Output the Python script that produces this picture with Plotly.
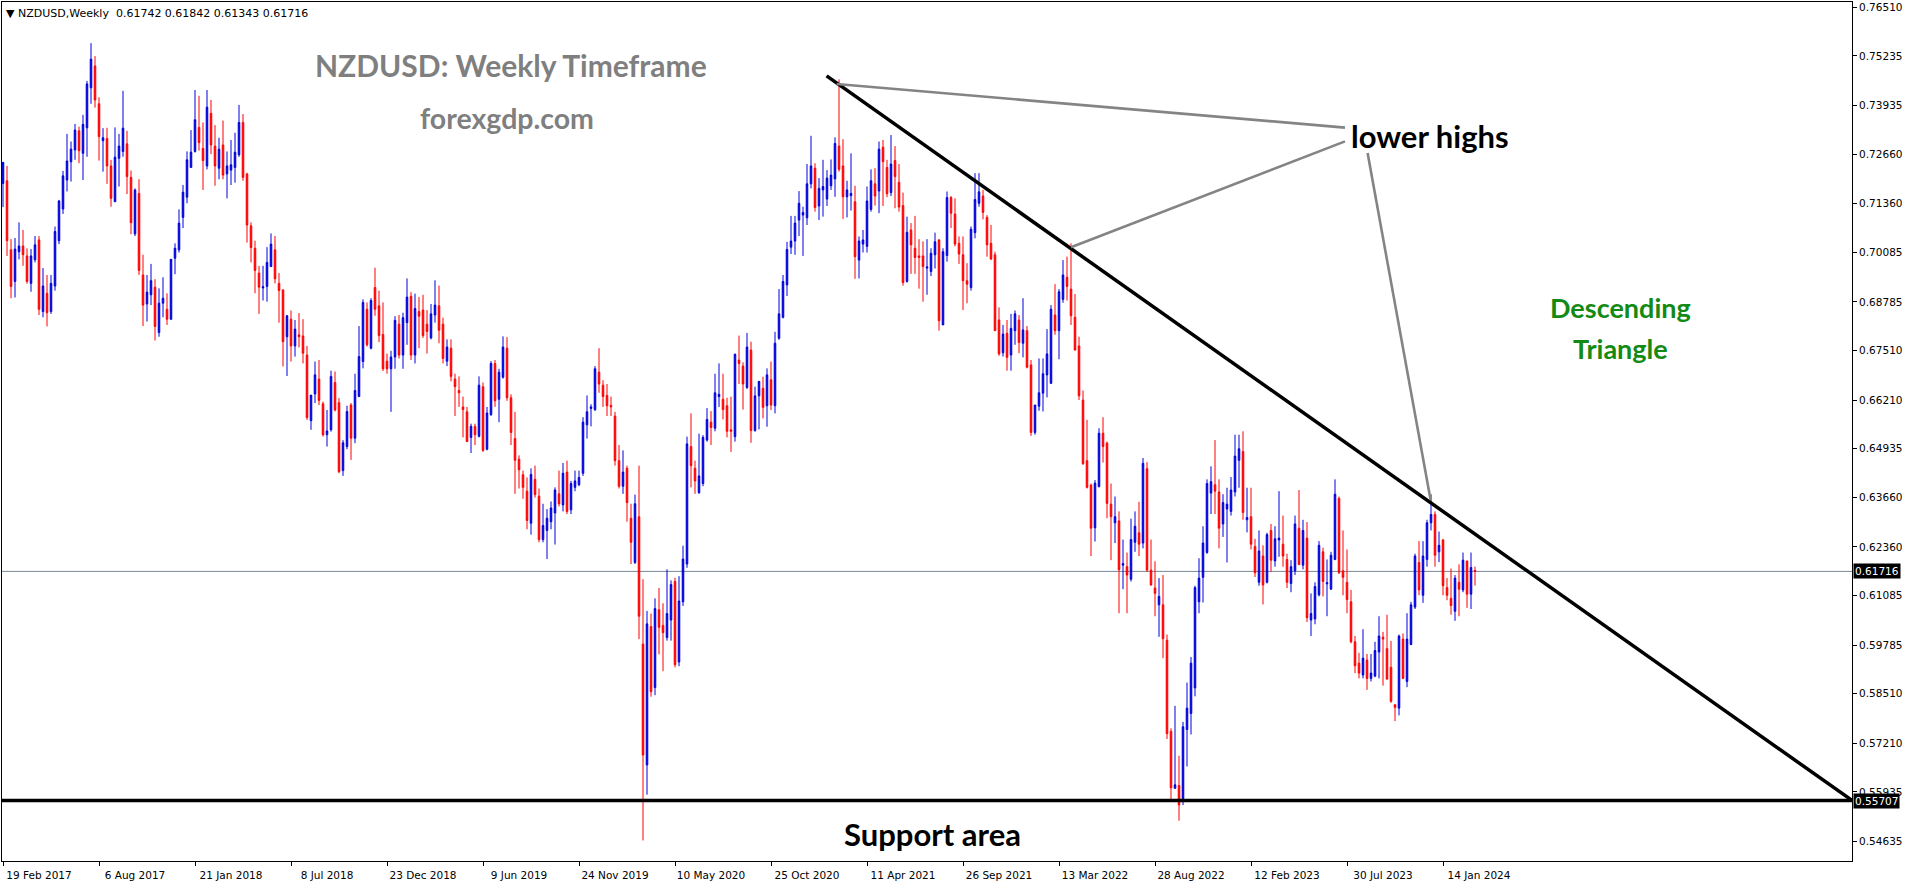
import pandas as pd
import plotly.graph_objects as go

# ---------------- data (NZDUSD weekly) ----------------
week_start = "2017-02-19"

opens = [
0.7189,0.7196,0.7015,0.6932,0.7010,0.7025,0.6999,0.6927,0.6989,0.7041,
0.6853,0.6901,0.6853,0.6920,0.7039,0.7122,0.7198,0.7246,0.7277,0.7327,
0.7268,0.7335,0.7440,0.7497,0.7398,0.7301,0.7307,0.7235,0.7141,0.7255,
0.7273,0.7293,0.7205,0.7057,0.7163,0.6949,0.6873,0.6897,0.6917,0.6798,
0.6875,0.6859,0.6833,0.6993,0.7015,0.7100,0.7153,0.7231,0.7273,0.7336,
0.7281,0.7235,0.7373,0.7287,0.7229,0.7290,0.7214,0.7224,0.7231,0.7264,
0.7349,0.7214,0.7078,0.7019,0.6954,0.6915,0.6919,0.6971,0.7015,0.6927,
0.6910,0.6787,0.6833,0.6763,0.6792,0.6789,0.6739,0.6567,0.6637,0.6676,
0.6611,0.6530,0.6543,0.6667,0.6614,0.6436,0.6499,0.6608,0.6521,0.6630,
0.6722,0.6859,0.6757,0.6916,0.6868,0.6793,0.6723,0.6703,0.6734,0.6820,
0.6739,0.6824,0.6893,0.6739,0.6853,0.6857,0.6820,0.6784,0.6844,0.6868,
0.6820,0.6723,0.6757,0.6676,0.6646,0.6603,0.6590,0.6523,0.6552,0.6526,
0.6656,0.6492,0.6583,0.6717,0.6623,0.6681,0.6757,0.6627,0.6520,0.6466,
0.6425,0.6382,0.6298,0.6413,0.6369,0.6255,0.6279,0.6302,0.6325,0.6375,
0.6346,0.6432,0.6333,0.6392,0.6399,0.6429,0.6556,0.6599,0.6596,0.6694,
0.6660,0.6633,0.6607,0.6579,0.6462,0.6395,0.6442,0.6311,0.6195,0.6315,
0.5981,0.5664,0.6027,0.5867,0.6071,0.6030,0.5998,0.6044,0.6145,0.5934,
0.6092,0.6191,0.6499,0.6442,0.6378,0.6402,0.6516,0.6563,0.6547,0.6630,
0.6623,0.6606,0.6543,0.6525,0.6726,0.6710,0.6654,0.6752,0.6541,0.6632,
0.6652,0.6606,0.6674,0.6606,0.6783,0.6838,0.6923,0.7022,0.7038,0.7093,
0.7106,0.7099,0.7188,0.7229,0.7130,0.7172,0.7148,0.7183,0.7201,0.7287,
0.7235,0.7154,0.7157,0.7141,0.6988,0.7030,0.7024,0.7121,0.7188,0.7169,
0.7284,0.7231,0.7165,0.7249,0.7192,0.7131,0.6932,0.7067,0.7019,0.6999,
0.6999,0.6967,0.6958,0.7002,0.7041,0.6818,0.7000,0.7152,0.7109,0.7032,
0.7002,0.6934,0.6916,0.7060,0.7137,0.7156,0.7100,0.7032,0.7002,0.6831,
0.6745,0.6796,0.6739,0.6803,0.6831,0.6770,0.6803,0.6713,0.6536,0.6605,
0.6639,0.6687,0.6665,0.6844,0.6803,0.6885,0.6943,0.6912,0.6838,0.6763,
0.6621,0.6462,0.6398,0.6286,0.6394,0.6534,0.6508,0.6348,0.6299,0.6304,
0.6188,0.6184,0.6151,0.6248,0.6273,0.6246,0.6441,0.6175,0.6128,0.6084,
0.6084,0.5991,0.5752,0.5603,0.5610,0.5574,0.5757,0.5799,0.5866,0.6092,
0.6156,0.6221,0.6377,0.6399,0.6380,0.6296,0.6335,0.6329,0.6380,0.6463,
0.6486,0.6307,0.6315,0.6237,0.6143,0.6212,0.6143,0.6279,0.6199,0.6254,
0.6243,0.6203,0.6140,0.6173,0.6285,0.6188,0.6259,0.6044,0.6047,0.6110,
0.6223,0.6139,0.6125,0.6203,0.6363,0.6173,0.6143,0.6092,0.5987,0.5931,
0.5900,0.5939,0.5891,0.5897,0.5960,0.5999,0.5969,0.5920,0.5822,0.5813,
0.5994,0.5883,0.5980,0.6078,0.6195,0.6109,0.6203,0.6299,0.6321,0.6223,
0.6254,0.6129,0.6101,0.6067,0.6143,0.6123,0.6199,0.6112,0.61742]

highs = [
0.7246,0.7235,0.7043,0.7046,0.7087,0.7067,0.7019,0.7017,0.7051,0.7051,
0.6967,0.6949,0.6949,0.7076,0.7146,0.7222,0.7319,0.7299,0.7345,0.7338,
0.7369,0.7458,0.7557,0.7523,0.7415,0.7334,0.7335,0.7251,0.7336,0.7319,
0.7432,0.7327,0.7223,0.7176,0.7200,0.7002,0.6949,0.6978,0.6938,0.6914,
0.6943,0.6901,0.6990,0.7032,0.7121,0.7185,0.7273,0.7329,0.7434,0.7419,
0.7349,0.7434,0.7408,0.7342,0.7309,0.7354,0.7273,0.7303,0.7322,0.7395,
0.7371,0.7217,0.7087,0.7039,0.6973,0.6973,0.7022,0.7058,0.7051,0.6954,
0.6910,0.6844,0.6856,0.6831,0.6849,0.6833,0.6763,0.6634,0.6722,0.6726,
0.6617,0.6595,0.6698,0.6696,0.6626,0.6516,0.6606,0.6613,0.6690,0.6815,
0.6885,0.6877,0.6888,0.6968,0.6908,0.6877,0.6743,0.6750,0.6841,0.6844,
0.6850,0.6940,0.6904,0.6900,0.6891,0.6897,0.6857,0.6873,0.6935,0.6921,
0.6837,0.6780,0.6780,0.6690,0.6683,0.6630,0.6603,0.6559,0.6559,0.6683,
0.6667,0.6603,0.6723,0.6726,0.6703,0.6788,0.6786,0.6636,0.6590,0.6476,
0.6436,0.6418,0.6442,0.6449,0.6389,0.6349,0.6335,0.6355,0.6392,0.6436,
0.6456,0.6462,0.6409,0.6436,0.6436,0.6576,0.6633,0.6610,0.6710,0.6757,
0.6673,0.6663,0.6630,0.6590,0.6503,0.6489,0.6449,0.6349,0.6373,0.6449,
0.6151,0.6068,0.6061,0.6101,0.6128,0.6088,0.6177,0.6148,0.6155,0.6159,
0.6239,0.6525,0.6586,0.6462,0.6533,0.6529,0.6600,0.6592,0.6690,0.6717,
0.6690,0.6627,0.6630,0.6743,0.6790,0.6720,0.6797,0.6774,0.6656,0.6670,
0.6682,0.6704,0.6722,0.6800,0.6912,0.6949,0.7036,0.7104,0.7104,0.7169,
0.7128,0.7240,0.7314,0.7242,0.7203,0.7251,0.7224,0.7252,0.7310,0.7462,
0.7305,0.7196,0.7268,0.7183,0.7050,0.7067,0.7181,0.7226,0.7229,0.7299,
0.7303,0.7251,0.7316,0.7287,0.7240,0.7165,0.7102,0.7085,0.7104,0.7043,
0.7037,0.7043,0.7019,0.7060,0.7043,0.7019,0.7168,0.7156,0.7150,0.7050,
0.7050,0.6980,0.7076,0.7216,0.7216,0.7172,0.7106,0.7080,0.7010,0.6864,
0.6818,0.6831,0.6847,0.6856,0.6844,0.6888,0.6815,0.6726,0.6608,0.6730,
0.6730,0.6807,0.6870,0.6925,0.6912,0.6988,0.6997,0.7032,0.6899,0.6787,
0.6646,0.6569,0.6402,0.6411,0.6547,0.6576,0.6512,0.6402,0.6368,0.6329,
0.6255,0.6221,0.6310,0.6329,0.6354,0.6469,0.6458,0.6255,0.6198,0.6154,
0.6162,0.6006,0.5760,0.5819,0.5688,0.5777,0.5880,0.5947,0.6134,0.6206,
0.6290,0.6413,0.6447,0.6516,0.6413,0.6374,0.6391,0.6419,0.6530,0.6530,
0.6539,0.6391,0.6391,0.6257,0.6279,0.6240,0.6273,0.6296,0.6290,0.6382,
0.6318,0.6218,0.6201,0.6318,0.6385,0.6307,0.6301,0.6114,0.6143,0.6251,
0.6234,0.6203,0.6223,0.6413,0.6368,0.6279,0.6229,0.6123,0.6002,0.5958,
0.6020,0.5955,0.5955,0.5987,0.6054,0.6013,0.6058,0.5989,0.5822,0.6006,
0.6009,0.6062,0.6092,0.6218,0.6251,0.6251,0.6307,0.6374,0.6329,0.6276,
0.6257,0.6154,0.6179,0.6162,0.6190,0.6221,0.6199,0.6221,0.61842]

lows = [
0.7127,0.6999,0.6888,0.6890,0.6990,0.6973,0.6926,0.6905,0.6982,0.6844,
0.6838,0.6814,0.6847,0.6908,0.7030,0.7109,0.7168,0.7194,0.7251,0.7242,
0.7198,0.7259,0.7398,0.7388,0.7249,0.7220,0.7188,0.7128,0.7141,0.7181,
0.7259,0.7161,0.7056,0.7051,0.6949,0.6815,0.6827,0.6870,0.6777,0.6787,
0.6838,0.6818,0.6831,0.6951,0.7008,0.7072,0.7137,0.7231,0.7270,0.7275,
0.7172,0.7226,0.7266,0.7183,0.7200,0.7200,0.7150,0.7185,0.7191,0.7259,
0.7196,0.7034,0.6982,0.6901,0.6847,0.6882,0.6879,0.6971,0.6927,0.6824,
0.6709,0.6684,0.6722,0.6735,0.6759,0.6717,0.6569,0.6543,0.6613,0.6608,
0.6525,0.6499,0.6538,0.6591,0.6429,0.6422,0.6492,0.6464,0.6508,0.6630,
0.6704,0.6761,0.6754,0.6842,0.6773,0.6697,0.6690,0.6590,0.6703,0.6730,
0.6703,0.6766,0.6726,0.6717,0.6757,0.6784,0.6743,0.6780,0.6824,0.6770,
0.6717,0.6710,0.6670,0.6579,0.6603,0.6523,0.6512,0.6482,0.6503,0.6523,
0.6485,0.6489,0.6579,0.6603,0.6563,0.6677,0.6619,0.6503,0.6375,0.6389,
0.6362,0.6282,0.6268,0.6365,0.6248,0.6248,0.6204,0.6282,0.6242,0.6342,
0.6329,0.6322,0.6322,0.6382,0.6395,0.6422,0.6520,0.6552,0.6592,0.6640,
0.6603,0.6579,0.6579,0.6449,0.6389,0.6375,0.6302,0.6191,0.6191,0.5994,
0.5466,0.5586,0.5843,0.5847,0.5954,0.5910,0.5990,0.5990,0.5920,0.5923,
0.6081,0.6181,0.6392,0.6375,0.6375,0.6395,0.6512,0.6503,0.6539,0.6603,
0.6570,0.6523,0.6485,0.6512,0.6663,0.6596,0.6650,0.6509,0.6538,0.6544,
0.6573,0.6551,0.6595,0.6586,0.6779,0.6835,0.6894,0.7004,0.7002,0.7051,
0.6999,0.7080,0.7176,0.7115,0.7093,0.7102,0.7130,0.7172,0.7154,0.7220,
0.7096,0.7100,0.7118,0.6939,0.6940,0.7008,0.7008,0.7115,0.7131,0.7111,
0.7130,0.7153,0.7156,0.7124,0.7115,0.6921,0.6929,0.6952,0.6952,0.6913,
0.6879,0.6897,0.6946,0.6966,0.6803,0.6818,0.6984,0.7072,0.7024,0.6978,
0.6857,0.6875,0.6908,0.7045,0.7128,0.7095,0.6997,0.6988,0.6803,0.6737,
0.6735,0.6698,0.6698,0.6766,0.6744,0.6733,0.6704,0.6527,0.6530,0.6593,
0.6591,0.6628,0.6663,0.6792,0.6728,0.6876,0.6882,0.6818,0.6751,0.6621,
0.6451,0.6389,0.6212,0.6250,0.6392,0.6457,0.6311,0.6201,0.6246,0.6062,
0.6125,0.6062,0.6145,0.6223,0.6212,0.6232,0.6170,0.6134,0.6054,0.6000,
0.5944,0.5732,0.5570,0.5601,0.5518,0.5559,0.5660,0.5744,0.5844,0.6062,
0.6090,0.6218,0.6322,0.6322,0.6232,0.6262,0.6195,0.6318,0.6368,0.6391,
0.6307,0.6274,0.6229,0.6157,0.6134,0.6085,0.6140,0.6171,0.6184,0.6210,
0.6184,0.6128,0.6117,0.6162,0.6188,0.6177,0.6039,0.6002,0.6033,0.6106,
0.6106,0.6054,0.6123,0.6201,0.6165,0.6109,0.6062,0.5983,0.5905,0.5891,
0.5891,0.5861,0.5883,0.5894,0.5891,0.5872,0.5889,0.5827,0.5779,0.5794,
0.5889,0.5868,0.5978,0.6073,0.6109,0.6089,0.6184,0.6279,0.6184,0.6196,
0.6109,0.6096,0.6058,0.6042,0.6054,0.6117,0.6076,0.6073,0.61343]

closes = [
0.7244,0.7039,0.6919,0.7017,0.7025,0.7002,0.6932,0.6999,0.7028,0.6859,
0.6920,0.6850,0.6927,0.7063,0.7143,0.7209,0.7248,0.7279,0.7329,0.7275,
0.7344,0.7450,0.7515,0.7408,0.7312,0.7309,0.7235,0.7150,0.7258,0.7287,
0.7334,0.7207,0.7086,0.7172,0.6961,0.6870,0.6904,0.6934,0.6814,0.6875,
0.6888,0.6833,0.6990,0.7019,0.7085,0.7166,0.7251,0.7271,0.7356,0.7296,
0.7249,0.7389,0.7290,0.7235,0.7279,0.7211,0.7235,0.7238,0.7271,0.7349,
0.7205,0.7080,0.7021,0.6961,0.6917,0.6918,0.6982,0.7030,0.6939,0.6908,
0.6774,0.6842,0.6763,0.6807,0.6787,0.6744,0.6575,0.6634,0.6687,0.6620,
0.6530,0.6540,0.6683,0.6595,0.6433,0.6509,0.6591,0.6521,0.6646,0.6735,
0.6877,0.6766,0.6882,0.6859,0.6790,0.6703,0.6703,0.6734,0.6830,0.6739,
0.6837,0.6891,0.6739,0.6861,0.6841,0.6790,0.6801,0.6847,0.6870,0.6804,
0.6730,0.6760,0.6683,0.6656,0.6640,0.6596,0.6512,0.6552,0.6530,0.6660,
0.6489,0.6587,0.6717,0.6619,0.6694,0.6760,0.6627,0.6536,0.6463,0.6438,
0.6392,0.6305,0.6426,0.6373,0.6255,0.6292,0.6311,0.6338,0.6385,0.6349,
0.6429,0.6329,0.6402,0.6409,0.6418,0.6563,0.6590,0.6603,0.6703,0.6663,
0.6630,0.6606,0.6603,0.6462,0.6395,0.6432,0.6352,0.6248,0.6349,0.6054,
0.5690,0.6034,0.5856,0.6074,0.6025,0.6011,0.6061,0.6137,0.5927,0.6094,
0.6204,0.6506,0.6449,0.6409,0.6422,0.6523,0.6570,0.6549,0.6640,0.6636,
0.6596,0.6539,0.6539,0.6741,0.6717,0.6663,0.6760,0.6541,0.6632,0.6670,
0.6602,0.6687,0.6608,0.6770,0.6847,0.6932,0.7016,0.7038,0.7085,0.7137,
0.7113,0.7188,0.7235,0.7126,0.7176,0.7181,0.7203,0.7211,0.7294,0.7226,
0.7154,0.7172,0.7163,0.6997,0.7038,0.7041,0.7143,0.7196,0.7156,0.7279,
0.7246,0.7162,0.7240,0.7207,0.7127,0.6929,0.7061,0.7028,0.6995,0.6995,
0.6971,0.6970,0.7006,0.7036,0.6829,0.7010,0.7152,0.7111,0.7030,0.7004,
0.6934,0.6925,0.7069,0.7147,0.7167,0.7113,0.7028,0.6991,0.6803,0.6742,
0.6794,0.6733,0.6809,0.6847,0.6772,0.6805,0.6707,0.6536,0.6608,0.6640,
0.6690,0.6742,0.6859,0.6803,0.6905,0.6949,0.6919,0.6842,0.6752,0.6632,
0.6454,0.6392,0.6285,0.6403,0.6534,0.6499,0.6350,0.6315,0.6315,0.6176,
0.6192,0.6162,0.6255,0.6290,0.6243,0.6455,0.6175,0.6136,0.6114,0.6106,
0.5995,0.5746,0.5604,0.5612,0.5559,0.5764,0.5813,0.5931,0.6129,0.6154,
0.6246,0.6402,0.6407,0.6382,0.6285,0.6352,0.6348,0.6385,0.6474,0.6493,
0.6326,0.6313,0.6243,0.6168,0.6225,0.6136,0.6268,0.6201,0.6257,0.6259,
0.6212,0.6143,0.6184,0.6296,0.6190,0.6279,0.6050,0.6061,0.6132,0.6240,
0.6145,0.6142,0.6214,0.6374,0.6168,0.6156,0.6098,0.5987,0.5924,0.5905,
0.5944,0.5891,0.5905,0.5964,0.6002,0.5994,0.5889,0.5831,0.5815,0.6002,
0.5891,0.5994,0.6084,0.6212,0.6123,0.6212,0.6299,0.6321,0.6214,0.6240,
0.6134,0.6109,0.6082,0.6154,0.6125,0.6201,0.6112,0.6182,0.61716]

x_tick_dates = ["2017-02-19", "2017-08-06", "2018-01-21", "2018-07-08",
                "2018-12-23", "2019-06-09", "2019-11-24", "2020-05-10",
                "2020-10-25", "2021-04-11", "2021-09-26", "2022-03-13",
                "2022-08-28", "2023-02-12", "2023-07-30", "2024-01-14"]
x_tick_text = ["19 Feb 2017", "6 Aug 2017", "21 Jan 2018", "8 Jul 2018",
               "23 Dec 2018", "9 Jun 2019", "24 Nov 2019", "10 May 2020",
               "25 Oct 2020", "11 Apr 2021", "26 Sep 2021", "13 Mar 2022",
               "28 Aug 2022", "12 Feb 2023", "30 Jul 2023", "14 Jan 2024"]
y_tick_vals = [0.76510, 0.75235, 0.73935, 0.72660, 0.71360, 0.70085,
               0.68785, 0.67510, 0.66210, 0.64935, 0.63660, 0.62360,
               0.61085, 0.59785, 0.58510, 0.57210, 0.55935, 0.54635]
y_tick_text = ["%.5f" % v for v in y_tick_vals]

current_price = 0.61716
support_level = 0.55707
header_ohlc = "0.61742 0.61842 0.61343 0.61716"

# drawing anchors: (bar index, price)
trend_line = [(205.9, 0.7471), (462.25, 0.5571)]
grey_lines = [[(208.4, 0.74498), (335.5, 0.73355)],
              [(267.0, 0.70216), (335.5, 0.72994)],
              [(341.15, 0.72689), (356.9, 0.63588)]]

# ---------------- figure ----------------
W, H = 1916, 884
ML, MR, MT, MB = 2, 64, 2, 23
start = pd.Timestamp(week_start)
dates = pd.date_range(week_start, periods=len(closes), freq="7D")


def bar_date(b):
    return start + pd.Timedelta(days=7 * b)


x_range = [bar_date(-0.25), bar_date(462.25)]
y_range = [0.54121, 0.76649]

BLUE = "#0000DC"
RED = "#FF0000"
FONT = "DejaVu Sans"

fig = go.Figure()
fig.add_trace(go.Candlestick(
    x=dates, open=opens, high=highs, low=lows, close=closes,
    increasing=dict(line=dict(color=BLUE, width=1), fillcolor=BLUE),
    decreasing=dict(line=dict(color=RED, width=1), fillcolor=RED),
    whiskerwidth=0, showlegend=False, hoverinfo="x+y",
))

shapes = []
shapes.append(dict(type="line", xref="paper", yref="y", x0=0, x1=1,
                   y0=current_price, y1=current_price,
                   line=dict(color="#778899", width=1), layer="below"))
shapes.append(dict(type="line", xref="paper", yref="y", x0=0, x1=1,
                   y0=support_level, y1=support_level,
                   line=dict(color="black", width=3.5)))
(b0, p0), (b1, p1) = trend_line
shapes.append(dict(type="line", xref="x", yref="y",
                   x0=bar_date(b0), y0=p0, x1=bar_date(b1), y1=p1,
                   line=dict(color="black", width=3.5)))
for (ga, pa), (gb, pb) in grey_lines:
    shapes.append(dict(type="line", xref="x", yref="y",
                       x0=bar_date(ga), y0=pa, x1=bar_date(gb), y1=pb,
                       line=dict(color="#848484", width=2.6)))


def px_x(px):
    return (px - ML) / (W - ML - MR)


def px_y(py):
    return (H - MB - py) / (H - MT - MB)


def label(text, cx, cy, size, color, family="Lato"):
    return dict(xref="paper", yref="paper", x=px_x(cx), y=px_y(cy),
                xanchor="center", yanchor="middle", showarrow=False,
                text=text, font=dict(family=family, size=size, color=color))


annotations = [
    dict(xref="paper", yref="paper", x=px_x(4), y=px_y(13),
         xanchor="left", yanchor="middle", showarrow=False,
         text="\u25BC NZDUSD,Weekly\u00a0\u00a0" + header_ohlc,
         font=dict(family=FONT, size=11, color="black")),
    label("<b>NZDUSD: Weekly Timeframe</b>", 511, 65, 30, "#7F7F7F"),
    label("<b>forexgdp.com</b>", 507, 118, 28.5, "#7F7F7F"),
    label("<b>lower highs</b>", 1430, 136, 31, "black"),
    label("<b>Descending</b>", 1620, 308, 27, "#138A13"),
    label("<b>Triangle</b>", 1620, 348, 27, "#138A13"),
    label("<b>Support area</b>", 933, 834, 31, "black"),
]
for val in (current_price, support_level):
    annotations.append(dict(xref="paper", yref="y", x=1, y=val,
                            xanchor="left", yanchor="middle", xshift=1,
                            showarrow=False, text="%.5f" % val,
                            bgcolor="black", borderpad=1,
                            font=dict(family=FONT, size=10.5, color="white")))

fig.update_layout(
    width=W, height=H,
    margin=dict(l=ML, r=MR, t=MT, b=MB, pad=0),
    paper_bgcolor="white", plot_bgcolor="white",
    boxgap=0.45,
    shapes=shapes, annotations=annotations,
    showlegend=False,
    xaxis=dict(type="date", range=x_range, rangeslider=dict(visible=False),
               tickmode="array", tickvals=x_tick_dates, ticktext=x_tick_text,
               ticks="outside", ticklen=4, tickcolor="black",
               showline=True, linecolor="black", linewidth=1, mirror=True,
               showgrid=False, zeroline=False, ticklabelshift=36,
               tickfont=dict(family=FONT, size=10.5, color="black")),
    yaxis=dict(side="right", range=y_range, tickmode="array",
               tickvals=y_tick_vals, ticktext=y_tick_text,
               ticks="outside", ticklen=4, tickcolor="black",
               showline=True, linecolor="black", linewidth=1, mirror=True,
               showgrid=False, zeroline=False,
               tickfont=dict(family=FONT, size=10.5, color="black")),
)

fig.write_html(
    "out.html",
    config={"displayModeBar": False},
    post_script="document.body.style.margin='0px';"
                "document.body.style.overflow='hidden';",
)
